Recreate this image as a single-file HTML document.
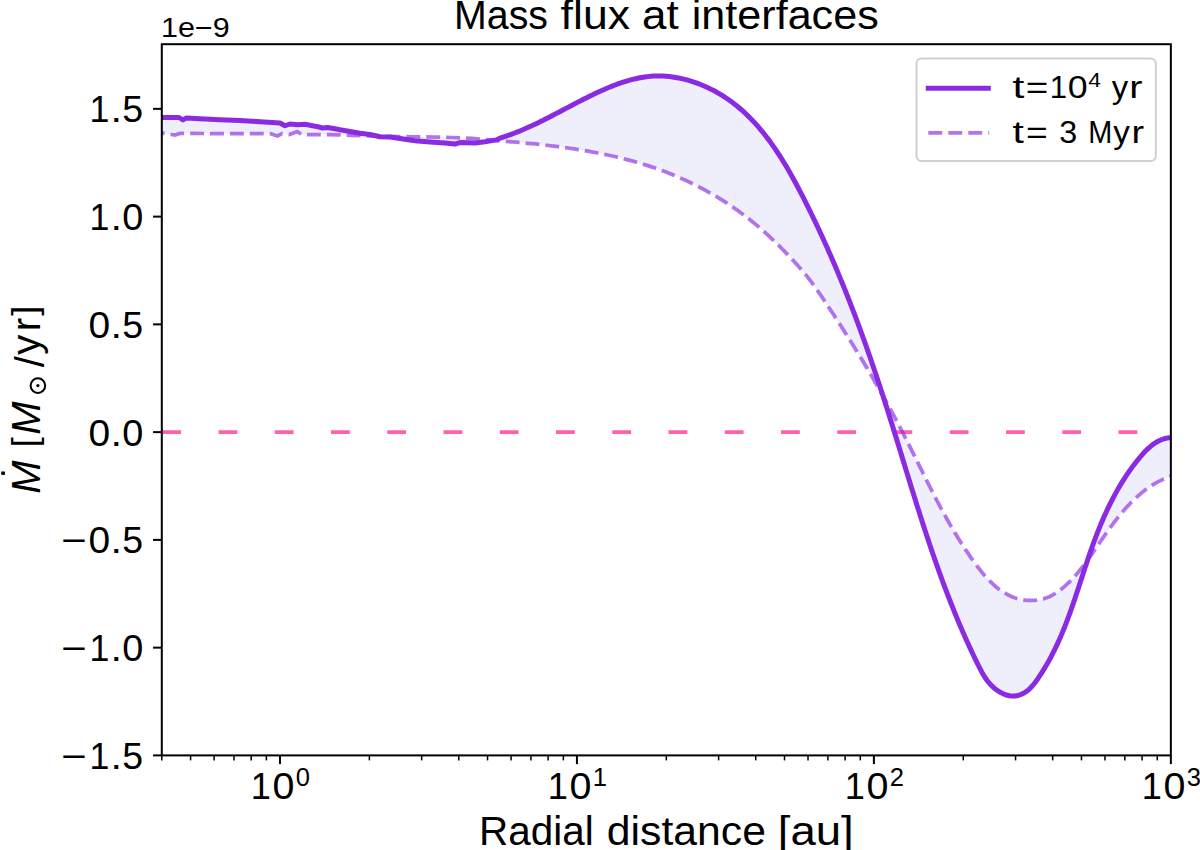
<!DOCTYPE html>
<html><head><meta charset="utf-8"><style>
html,body{margin:0;padding:0;background:#fff;width:1200px;height:850px;overflow:hidden}
svg{display:block;font-family:"Liberation Sans",sans-serif}
</style></head><body>
<svg width="1200" height="850" viewBox="0 0 1200 850">
<rect width="1200" height="850" fill="#fff"/>
<defs><clipPath id="ax"><rect x="161.80" y="44.20" width="1009.05" height="711.20"/></clipPath></defs>
<g clip-path="url(#ax)">
<path d="M150.00 117.50 L163.00 117.50 L179.00 117.50 L183.00 120.00 L186.00 118.00 L200.00 118.75 L220.00 119.75 L240.00 120.50 L260.00 121.75 L280.00 123.00 L285.00 125.75 L290.00 124.00 L297.50 124.75 L305.00 124.25 L312.50 125.75 L319.00 127.00 L322.50 128.00 L327.50 127.50 L335.00 128.75 L340.00 129.75 L350.00 131.50 L360.00 133.25 L370.00 134.50 L380.00 136.75 L390.00 137.00 L400.00 138.50 L415.00 140.75 L430.00 142.00 L445.00 143.00 L455.00 144.00 L460.00 142.60 L475.00 143.00 L485.00 141.75 L496.50 139.90 L500.15 138.06 L503.11 137.14 L506.04 136.18 L508.96 135.17 L511.85 134.12 L514.73 133.03 L517.60 131.91 L520.45 130.75 L523.28 129.55 L526.10 128.33 L528.91 127.07 L531.71 125.79 L534.49 124.49 L537.27 123.16 L540.04 121.81 L542.80 120.44 L545.55 119.05 L548.30 117.66 L551.05 116.24 L553.79 114.82 L556.52 113.39 L559.26 111.95 L561.99 110.51 L564.73 109.06 L567.47 107.62 L570.20 106.18 L572.94 104.74 L575.69 103.30 L578.44 101.88 L581.20 100.46 L583.96 99.06 L586.73 97.67 L589.51 96.29 L592.30 94.93 L595.10 93.60 L597.91 92.28 L600.73 90.99 L603.57 89.73 L606.42 88.50 L609.29 87.30 L612.17 86.14 L615.06 85.02 L617.96 83.95 L620.88 82.92 L623.82 81.95 L626.76 81.04 L629.72 80.20 L632.69 79.41 L635.67 78.70 L638.67 78.06 L641.68 77.50 L644.70 77.02 L647.74 76.62 L650.79 76.32 L653.85 76.11 L656.92 75.99 L660.01 75.98 L663.11 76.07 L666.22 76.26 L669.33 76.55 L672.44 76.94 L675.55 77.42 L678.66 77.99 L681.75 78.65 L684.84 79.39 L687.90 80.21 L690.95 81.11 L693.97 82.09 L696.97 83.14 L699.93 84.26 L702.86 85.45 L705.75 86.70 L708.60 88.02 L711.40 89.39 L714.16 90.82 L716.87 92.30 L719.54 93.84 L722.16 95.44 L724.73 97.08 L727.26 98.77 L729.75 100.52 L732.20 102.31 L734.61 104.15 L736.97 106.04 L739.30 107.97 L741.59 109.95 L743.84 111.97 L746.05 114.03 L748.23 116.13 L750.37 118.27 L752.48 120.45 L754.55 122.66 L756.59 124.92 L758.60 127.20 L760.58 129.52 L762.52 131.88 L764.44 134.26 L766.32 136.68 L768.18 139.12 L770.01 141.59 L771.81 144.09 L773.59 146.61 L775.34 149.16 L777.07 151.73 L778.77 154.33 L780.45 156.94 L782.11 159.58 L783.75 162.23 L785.36 164.90 L786.96 167.59 L788.54 170.29 L790.09 173.01 L791.64 175.74 L793.16 178.49 L794.67 181.24 L796.16 184.00 L797.64 186.77 L799.11 189.55 L800.56 192.34 L802.00 195.13 L803.43 197.92 L804.85 200.72 L806.26 203.52 L807.66 206.32 L809.05 209.12 L810.43 211.93 L811.80 214.73 L813.16 217.54 L814.51 220.35 L815.86 223.16 L817.19 225.98 L818.51 228.80 L819.83 231.62 L821.14 234.44 L822.43 237.26 L823.72 240.08 L825.00 242.91 L826.27 245.74 L827.54 248.57 L828.79 251.40 L830.04 254.24 L831.28 257.07 L832.51 259.91 L833.73 262.75 L834.95 265.60 L836.15 268.44 L837.35 271.29 L838.54 274.14 L839.73 276.99 L840.90 279.84 L842.07 282.70 L843.23 285.55 L844.39 288.41 L845.54 291.27 L846.68 294.13 L847.81 297.00 L848.94 299.87 L850.06 302.73 L851.17 305.61 L852.28 308.48 L853.38 311.35 L854.47 314.23 L855.56 317.11 L856.64 319.99 L857.72 322.87 L858.79 325.76 L859.85 328.64 L860.91 331.53 L861.96 334.42 L863.00 337.32 L864.04 340.21 L865.08 343.11 L866.11 346.01 L867.13 348.91 L868.15 351.81 L869.17 354.72 L870.18 357.62 L871.18 360.53 L872.18 363.44 L873.17 366.36 L874.16 369.27 L875.15 372.19 L876.13 375.11 L877.10 378.03 L878.08 380.95 L879.04 383.88 L880.01 386.80 L880.97 389.73 L881.92 392.67 L882.87 395.60 L883.82 398.53 L884.76 401.47 L885.70 404.41 L886.64 407.35 L887.58 410.29 L888.51 413.24 L889.43 416.19 L890.36 419.13 L891.28 422.08 L892.20 425.03 L893.12 427.99 L894.04 430.94 L894.95 433.89 L895.87 436.85 L896.78 439.81 L897.69 442.76 L898.60 445.72 L899.51 448.68 L900.42 451.64 L901.33 454.60 L902.23 457.56 L903.14 460.52 L904.05 463.48 L904.96 466.45 L905.87 469.41 L906.78 472.37 L907.69 475.33 L908.60 478.29 L909.51 481.26 L910.42 484.22 L911.34 487.18 L912.26 490.14 L913.18 493.10 L914.10 496.06 L915.02 499.02 L915.95 501.98 L916.88 504.93 L917.81 507.89 L918.75 510.85 L919.69 513.80 L920.63 516.75 L921.57 519.71 L922.52 522.66 L923.48 525.61 L924.43 528.55 L925.40 531.50 L926.36 534.44 L927.34 537.39 L928.31 540.33 L929.29 543.27 L930.28 546.20 L931.27 549.14 L932.27 552.07 L933.28 555.00 L934.29 557.93 L935.30 560.86 L936.33 563.78 L937.36 566.70 L938.39 569.62 L939.44 572.54 L940.49 575.45 L941.54 578.36 L942.61 581.27 L943.68 584.17 L944.76 587.07 L945.85 589.97 L946.95 592.86 L948.06 595.75 L949.17 598.64 L950.29 601.52 L951.43 604.40 L952.57 607.28 L953.72 610.15 L954.88 613.02 L956.05 615.88 L957.23 618.74 L958.42 621.60 L959.62 624.45 L960.84 627.30 L962.06 630.14 L963.29 632.98 L964.54 635.82 L965.79 638.65 L967.06 641.47 L968.34 644.29 L969.63 647.11 L970.93 649.92 L972.24 652.72 L973.57 655.52 L974.91 658.32 L976.26 661.11 L977.63 663.89 L979.01 666.67 L980.41 669.43 L981.87 672.16 L983.41 674.85 L985.04 677.47 L986.79 680.01 L988.69 682.46 L990.75 684.80 L993.00 687.02 L995.44 689.08 L998.05 690.96 L1000.79 692.61 L1003.62 693.98 L1006.52 695.05 L1009.45 695.76 L1012.38 696.08 L1015.27 695.97 L1018.11 695.45 L1020.87 694.54 L1023.53 693.29 L1026.06 691.72 L1028.46 689.86 L1030.70 687.76 L1032.77 685.44 L1034.72 682.98 L1036.58 680.42 L1038.38 677.83 L1040.14 675.22 L1041.85 672.59 L1043.51 669.94 L1045.13 667.28 L1046.71 664.60 L1048.25 661.90 L1049.75 659.19 L1051.21 656.46 L1052.64 653.71 L1054.03 650.96 L1055.38 648.18 L1056.71 645.40 L1058.00 642.60 L1059.27 639.79 L1060.50 636.97 L1061.71 634.14 L1062.89 631.29 L1064.05 628.44 L1065.19 625.58 L1066.31 622.71 L1067.40 619.82 L1068.48 616.94 L1069.54 614.04 L1070.58 611.14 L1071.61 608.23 L1072.62 605.31 L1073.63 602.39 L1074.62 599.46 L1075.61 596.53 L1076.58 593.59 L1077.55 590.66 L1078.52 587.71 L1079.48 584.77 L1080.44 581.83 L1081.40 578.88 L1082.36 575.93 L1083.32 572.98 L1084.28 570.03 L1085.25 567.09 L1086.23 564.14 L1087.21 561.19 L1088.20 558.25 L1089.20 555.31 L1090.21 552.37 L1091.24 549.44 L1092.28 546.51 L1093.33 543.59 L1094.40 540.67 L1095.49 537.76 L1096.60 534.85 L1097.73 531.95 L1098.88 529.06 L1100.05 526.18 L1101.24 523.31 L1102.46 520.45 L1103.70 517.60 L1104.96 514.76 L1106.25 511.93 L1107.56 509.12 L1108.90 506.32 L1110.26 503.54 L1111.65 500.78 L1113.08 498.03 L1114.52 495.29 L1116.00 492.58 L1117.51 489.89 L1119.05 487.21 L1120.62 484.56 L1122.23 481.93 L1123.87 479.32 L1125.54 476.73 L1127.24 474.17 L1128.98 471.63 L1130.76 469.12 L1132.57 466.63 L1134.42 464.18 L1136.31 461.74 L1138.24 459.34 L1140.20 456.97 L1142.21 454.63 L1144.27 452.35 L1146.40 450.14 L1148.62 448.03 L1150.93 446.04 L1153.35 444.20 L1155.89 442.52 L1158.58 441.03 L1161.41 439.76 L1164.42 438.72 L1167.60 437.94 L1170.98 437.44 L1170.69 476.25 L1168.46 477.06 L1166.26 477.93 L1164.11 478.86 L1161.99 479.83 L1159.90 480.86 L1157.85 481.93 L1155.83 483.05 L1153.84 484.22 L1151.89 485.43 L1149.96 486.69 L1148.07 487.99 L1146.21 489.33 L1144.37 490.71 L1142.56 492.13 L1140.78 493.58 L1139.03 495.07 L1137.31 496.60 L1135.60 498.15 L1133.93 499.74 L1132.27 501.36 L1130.64 503.00 L1129.03 504.68 L1127.44 506.38 L1125.88 508.10 L1124.33 509.85 L1122.80 511.62 L1121.29 513.41 L1119.80 515.22 L1118.32 517.04 L1116.86 518.89 L1115.41 520.74 L1113.98 522.61 L1112.56 524.50 L1111.16 526.39 L1109.77 528.30 L1108.39 530.21 L1107.02 532.13 L1105.66 534.05 L1104.30 535.98 L1102.96 537.91 L1101.62 539.84 L1100.30 541.77 L1098.97 543.71 L1097.65 545.63 L1096.34 547.56 L1095.03 549.48 L1093.71 551.39 L1092.40 553.30 L1091.07 555.20 L1089.74 557.09 L1088.40 558.98 L1087.05 560.85 L1085.68 562.72 L1084.29 564.57 L1082.88 566.41 L1081.46 568.24 L1080.00 570.05 L1078.52 571.85 L1077.02 573.64 L1075.48 575.40 L1073.90 577.15 L1072.30 578.88 L1070.65 580.60 L1068.96 582.29 L1067.23 583.96 L1065.46 585.60 L1063.65 587.20 L1061.79 588.75 L1059.90 590.24 L1057.96 591.66 L1055.99 592.99 L1053.97 594.24 L1051.92 595.39 L1049.83 596.43 L1047.70 597.35 L1045.54 598.15 L1043.34 598.83 L1041.12 599.38 L1038.87 599.82 L1036.61 600.14 L1034.34 600.35 L1032.06 600.45 L1029.78 600.44 L1027.50 600.32 L1025.23 600.09 L1022.97 599.76 L1020.73 599.34 L1018.52 598.81 L1016.33 598.19 L1014.17 597.47 L1012.05 596.66 L1009.97 595.76 L1007.93 594.77 L1005.94 593.70 L1003.99 592.56 L1002.08 591.33 L1000.21 590.03 L998.37 588.67 L996.57 587.24 L994.81 585.75 L993.08 584.20 L991.38 582.59 L989.71 580.94 L988.07 579.24 L986.47 577.50 L984.88 575.72 L983.33 573.90 L981.80 572.06 L980.29 570.18 L978.81 568.28 L977.35 566.36 L975.90 564.43 L974.48 562.48 L973.07 560.52 L971.68 558.56 L970.30 556.59 L968.94 554.62 L967.60 552.64 L966.27 550.66 L964.95 548.67 L963.65 546.68 L962.36 544.69 L961.08 542.70 L959.81 540.70 L958.56 538.69 L957.32 536.69 L956.09 534.68 L954.88 532.66 L953.67 530.65 L952.48 528.63 L951.29 526.61 L950.12 524.58 L948.96 522.55 L947.80 520.52 L946.66 518.49 L945.52 516.45 L944.39 514.42 L943.27 512.37 L942.16 510.33 L941.05 508.29 L939.95 506.24 L938.86 504.19 L937.78 502.14 L936.70 500.09 L935.63 498.03 L934.56 495.97 L933.50 493.92 L932.44 491.86 L931.39 489.79 L930.34 487.73 L929.30 485.67 L928.26 483.60 L927.22 481.54 L926.18 479.47 L925.15 477.40 L924.12 475.34 L923.09 473.27 L922.06 471.20 L921.04 469.13 L920.01 467.06 L918.99 464.99 L917.96 462.91 L916.94 460.84 L915.91 458.77 L914.89 456.70 L913.86 454.63 L912.83 452.56 L911.80 450.49 L910.77 448.42 L909.74 446.35 L908.70 444.28 L907.66 442.21 L906.61 440.14 L905.57 438.07 L904.51 436.00 L903.46 433.94 L902.40 431.87 L901.33 429.81 L900.26 427.75 L899.18 425.69 L898.10 423.63 L897.01 421.57 L895.92 419.51 L894.83 417.46 L893.73 415.40 L892.62 413.35 L891.51 411.30 L890.40 409.24 L889.28 407.20 L888.15 405.15 L887.03 403.10 L885.89 401.06 L884.76 399.01 L883.61 396.97 L882.47 394.93 L881.32 392.90 L880.17 390.86 L879.01 388.82 L877.85 386.79 L876.68 384.76 L875.51 382.73 L874.34 380.70 L873.16 378.68 L871.98 376.65 L870.80 374.63 L869.61 372.61 L868.42 370.59 L867.22 368.58 L866.02 366.56 L864.82 364.55 L863.62 362.54 L862.41 360.54 L861.20 358.53 L859.98 356.53 L858.76 354.52 L857.54 352.53 L856.32 350.53 L855.09 348.53 L853.86 346.54 L852.63 344.55 L851.39 342.56 L850.15 340.58 L848.91 338.60 L847.67 336.62 L846.42 334.64 L845.17 332.66 L843.92 330.69 L842.67 328.72 L841.41 326.75 L840.15 324.79 L838.89 322.82 L837.62 320.86 L836.36 318.91 L835.09 316.95 L833.82 315.00 L832.55 313.05 L831.28 311.10 L830.00 309.16 L828.72 307.22 L827.44 305.28 L826.16 303.35 L824.88 301.42 L823.59 299.49 L822.31 297.56 L821.02 295.64 L819.72 293.73 L818.42 291.82 L817.10 289.91 L815.77 288.02 L814.43 286.14 L813.07 284.27 L811.69 282.41 L810.29 280.57 L808.86 278.74 L807.42 276.93 L805.95 275.12 L804.46 273.34 L802.96 271.56 L801.44 269.79 L799.91 268.04 L798.36 266.29 L796.81 264.55 L795.24 262.82 L793.67 261.10 L792.09 259.38 L790.51 257.67 L788.91 255.97 L787.31 254.27 L785.69 252.58 L784.07 250.91 L782.45 249.24 L780.81 247.57 L779.16 245.92 L777.50 244.28 L775.84 242.65 L774.16 241.02 L772.48 239.41 L770.78 237.81 L769.08 236.22 L767.37 234.64 L765.64 233.07 L763.91 231.52 L762.16 229.97 L760.40 228.44 L758.63 226.92 L756.85 225.41 L755.06 223.92 L753.26 222.44 L751.45 220.97 L749.62 219.52 L747.79 218.08 L745.94 216.65 L744.08 215.24 L742.21 213.84 L740.33 212.46 L738.44 211.09 L736.54 209.74 L734.62 208.40 L732.70 207.07 L730.77 205.76 L728.83 204.46 L726.87 203.17 L724.91 201.90 L722.94 200.65 L720.96 199.41 L718.97 198.18 L716.97 196.97 L714.97 195.77 L712.95 194.59 L710.93 193.42 L708.89 192.27 L706.85 191.13 L704.80 190.01 L702.75 188.90 L700.68 187.80 L698.61 186.73 L696.53 185.66 L694.44 184.61 L692.35 183.58 L690.25 182.56 L688.14 181.56 L686.02 180.57 L683.90 179.60 L681.78 178.64 L679.64 177.70 L677.50 176.77 L675.36 175.86 L673.21 174.96 L671.05 174.08 L668.89 173.22 L666.72 172.37 L664.55 171.54 L662.37 170.72 L660.19 169.91 L658.00 169.13 L655.81 168.35 L653.61 167.60 L651.41 166.85 L649.20 166.12 L646.99 165.41 L644.77 164.71 L642.55 164.02 L640.33 163.35 L638.10 162.69 L635.87 162.04 L633.64 161.41 L631.40 160.79 L629.15 160.18 L626.90 159.58 L624.65 159.00 L622.40 158.43 L620.14 157.87 L617.88 157.33 L615.61 156.79 L613.35 156.27 L611.07 155.75 L608.80 155.25 L606.52 154.76 L604.24 154.28 L601.96 153.81 L599.67 153.35 L597.38 152.91 L595.09 152.47 L592.80 152.04 L590.50 151.62 L588.21 151.21 L585.90 150.81 L583.60 150.42 L581.30 150.03 L578.99 149.66 L576.68 149.30 L574.37 148.94 L572.06 148.59 L569.74 148.25 L567.43 147.92 L565.11 147.59 L562.79 147.27 L560.47 146.96 L558.15 146.66 L555.83 146.36 L553.50 146.07 L551.18 145.79 L548.85 145.51 L546.52 145.24 L544.20 144.98 L541.87 144.72 L539.54 144.47 L537.21 144.22 L534.88 143.98 L532.55 143.74 L530.22 143.51 L527.89 143.28 L525.56 143.06 L523.23 142.84 L520.89 142.62 L518.56 142.41 L516.23 142.21 L513.90 142.00 L511.57 141.80 L472.00 138.40 L452.00 137.50 L432.00 137.00 L413.00 136.75 L400.00 136.60 L380.00 136.20 L352.00 135.40 L340.00 134.90 L320.00 134.60 L307.00 134.50 L301.50 134.50 L297.50 131.50 L289.50 134.50 L282.00 133.60 L277.50 136.00 L270.00 133.50 L240.00 133.50 L204.00 133.50 L184.00 133.30 L180.00 133.40 L175.00 135.00 L171.50 134.50 L163.00 133.20 L150.00 133.20 Z" fill="#efeffc" stroke="none"/>
<line x1="162.3" y1="432.2" x2="1171" y2="432.2" stroke="#ff5fad" stroke-width="3.75" stroke-dasharray="18.75 37.5"/>
<path d="M150.00 133.20 L163.00 133.20 L171.50 134.50 L175.00 135.00 L180.00 133.40 L184.00 133.30 L204.00 133.50 L240.00 133.50 L270.00 133.50 L277.50 136.00 L282.00 133.60 L289.50 134.50 L297.50 131.50 L301.50 134.50 L307.00 134.50 L320.00 134.60 L340.00 134.90 L352.00 135.40 L380.00 136.20 L400.00 136.60 L413.00 136.75 L432.00 137.00 L452.00 137.50 L472.00 138.40 L511.57 141.80 L513.90 142.00 L516.23 142.21 L518.56 142.41 L520.89 142.62 L523.23 142.84 L525.56 143.06 L527.89 143.28 L530.22 143.51 L532.55 143.74 L534.88 143.98 L537.21 144.22 L539.54 144.47 L541.87 144.72 L544.20 144.98 L546.52 145.24 L548.85 145.51 L551.18 145.79 L553.50 146.07 L555.83 146.36 L558.15 146.66 L560.47 146.96 L562.79 147.27 L565.11 147.59 L567.43 147.92 L569.74 148.25 L572.06 148.59 L574.37 148.94 L576.68 149.30 L578.99 149.66 L581.30 150.03 L583.60 150.42 L585.90 150.81 L588.21 151.21 L590.50 151.62 L592.80 152.04 L595.09 152.47 L597.38 152.91 L599.67 153.35 L601.96 153.81 L604.24 154.28 L606.52 154.76 L608.80 155.25 L611.07 155.75 L613.35 156.27 L615.61 156.79 L617.88 157.33 L620.14 157.87 L622.40 158.43 L624.65 159.00 L626.90 159.58 L629.15 160.18 L631.40 160.79 L633.64 161.41 L635.87 162.04 L638.10 162.69 L640.33 163.35 L642.55 164.02 L644.77 164.71 L646.99 165.41 L649.20 166.12 L651.41 166.85 L653.61 167.60 L655.81 168.35 L658.00 169.13 L660.19 169.91 L662.37 170.72 L664.55 171.54 L666.72 172.37 L668.89 173.22 L671.05 174.08 L673.21 174.96 L675.36 175.86 L677.50 176.77 L679.64 177.70 L681.78 178.64 L683.90 179.60 L686.02 180.57 L688.14 181.56 L690.25 182.56 L692.35 183.58 L694.44 184.61 L696.53 185.66 L698.61 186.73 L700.68 187.80 L702.75 188.90 L704.80 190.01 L706.85 191.13 L708.89 192.27 L710.93 193.42 L712.95 194.59 L714.97 195.77 L716.97 196.97 L718.97 198.18 L720.96 199.41 L722.94 200.65 L724.91 201.90 L726.87 203.17 L728.83 204.46 L730.77 205.76 L732.70 207.07 L734.62 208.40 L736.54 209.74 L738.44 211.09 L740.33 212.46 L742.21 213.84 L744.08 215.24 L745.94 216.65 L747.79 218.08 L749.62 219.52 L751.45 220.97 L753.26 222.44 L755.06 223.92 L756.85 225.41 L758.63 226.92 L760.40 228.44 L762.16 229.97 L763.91 231.52 L765.64 233.07 L767.37 234.64 L769.08 236.22 L770.78 237.81 L772.48 239.41 L774.16 241.02 L775.84 242.65 L777.50 244.28 L779.16 245.92 L780.81 247.57 L782.45 249.24 L784.07 250.91 L785.69 252.58 L787.31 254.27 L788.91 255.97 L790.51 257.67 L792.09 259.38 L793.67 261.10 L795.24 262.82 L796.81 264.55 L798.36 266.29 L799.91 268.04 L801.44 269.79 L802.96 271.56 L804.46 273.34 L805.95 275.12 L807.42 276.93 L808.86 278.74 L810.29 280.57 L811.69 282.41 L813.07 284.27 L814.43 286.14 L815.77 288.02 L817.10 289.91 L818.42 291.82 L819.72 293.73 L821.02 295.64 L822.31 297.56 L823.59 299.49 L824.88 301.42 L826.16 303.35 L827.44 305.28 L828.72 307.22 L830.00 309.16 L831.28 311.10 L832.55 313.05 L833.82 315.00 L835.09 316.95 L836.36 318.91 L837.62 320.86 L838.89 322.82 L840.15 324.79 L841.41 326.75 L842.67 328.72 L843.92 330.69 L845.17 332.66 L846.42 334.64 L847.67 336.62 L848.91 338.60 L850.15 340.58 L851.39 342.56 L852.63 344.55 L853.86 346.54 L855.09 348.53 L856.32 350.53 L857.54 352.53 L858.76 354.52 L859.98 356.53 L861.20 358.53 L862.41 360.54 L863.62 362.54 L864.82 364.55 L866.02 366.56 L867.22 368.58 L868.42 370.59 L869.61 372.61 L870.80 374.63 L871.98 376.65 L873.16 378.68 L874.34 380.70 L875.51 382.73 L876.68 384.76 L877.85 386.79 L879.01 388.82 L880.17 390.86 L881.32 392.90 L882.47 394.93 L883.61 396.97 L884.76 399.01 L885.89 401.06 L887.03 403.10 L888.15 405.15 L889.28 407.20 L890.40 409.24 L891.51 411.30 L892.62 413.35 L893.73 415.40 L894.83 417.46 L895.92 419.51 L897.01 421.57 L898.10 423.63 L899.18 425.69 L900.26 427.75 L901.33 429.81 L902.40 431.87 L903.46 433.94 L904.51 436.00 L905.57 438.07 L906.61 440.14 L907.66 442.21 L908.70 444.28 L909.74 446.35 L910.77 448.42 L911.80 450.49 L912.83 452.56 L913.86 454.63 L914.89 456.70 L915.91 458.77 L916.94 460.84 L917.96 462.91 L918.99 464.99 L920.01 467.06 L921.04 469.13 L922.06 471.20 L923.09 473.27 L924.12 475.34 L925.15 477.40 L926.18 479.47 L927.22 481.54 L928.26 483.60 L929.30 485.67 L930.34 487.73 L931.39 489.79 L932.44 491.86 L933.50 493.92 L934.56 495.97 L935.63 498.03 L936.70 500.09 L937.78 502.14 L938.86 504.19 L939.95 506.24 L941.05 508.29 L942.16 510.33 L943.27 512.37 L944.39 514.42 L945.52 516.45 L946.66 518.49 L947.80 520.52 L948.96 522.55 L950.12 524.58 L951.29 526.61 L952.48 528.63 L953.67 530.65 L954.88 532.66 L956.09 534.68 L957.32 536.69 L958.56 538.69 L959.81 540.70 L961.08 542.70 L962.36 544.69 L963.65 546.68 L964.95 548.67 L966.27 550.66 L967.60 552.64 L968.94 554.62 L970.30 556.59 L971.68 558.56 L973.07 560.52 L974.48 562.48 L975.90 564.43 L977.35 566.36 L978.81 568.28 L980.29 570.18 L981.80 572.06 L983.33 573.90 L984.88 575.72 L986.47 577.50 L988.07 579.24 L989.71 580.94 L991.38 582.59 L993.08 584.20 L994.81 585.75 L996.57 587.24 L998.37 588.67 L1000.21 590.03 L1002.08 591.33 L1003.99 592.56 L1005.94 593.70 L1007.93 594.77 L1009.97 595.76 L1012.05 596.66 L1014.17 597.47 L1016.33 598.19 L1018.52 598.81 L1020.73 599.34 L1022.97 599.76 L1025.23 600.09 L1027.50 600.32 L1029.78 600.44 L1032.06 600.45 L1034.34 600.35 L1036.61 600.14 L1038.87 599.82 L1041.12 599.38 L1043.34 598.83 L1045.54 598.15 L1047.70 597.35 L1049.83 596.43 L1051.92 595.39 L1053.97 594.24 L1055.99 592.99 L1057.96 591.66 L1059.90 590.24 L1061.79 588.75 L1063.65 587.20 L1065.46 585.60 L1067.23 583.96 L1068.96 582.29 L1070.65 580.60 L1072.30 578.88 L1073.90 577.15 L1075.48 575.40 L1077.02 573.64 L1078.52 571.85 L1080.00 570.05 L1081.46 568.24 L1082.88 566.41 L1084.29 564.57 L1085.68 562.72 L1087.05 560.85 L1088.40 558.98 L1089.74 557.09 L1091.07 555.20 L1092.40 553.30 L1093.71 551.39 L1095.03 549.48 L1096.34 547.56 L1097.65 545.63 L1098.97 543.71 L1100.30 541.77 L1101.62 539.84 L1102.96 537.91 L1104.30 535.98 L1105.66 534.05 L1107.02 532.13 L1108.39 530.21 L1109.77 528.30 L1111.16 526.39 L1112.56 524.50 L1113.98 522.61 L1115.41 520.74 L1116.86 518.89 L1118.32 517.04 L1119.80 515.22 L1121.29 513.41 L1122.80 511.62 L1124.33 509.85 L1125.88 508.10 L1127.44 506.38 L1129.03 504.68 L1130.64 503.00 L1132.27 501.36 L1133.93 499.74 L1135.60 498.15 L1137.31 496.60 L1139.03 495.07 L1140.78 493.58 L1142.56 492.13 L1144.37 490.71 L1146.21 489.33 L1148.07 487.99 L1149.96 486.69 L1151.89 485.43 L1153.84 484.22 L1155.83 483.05 L1157.85 481.93 L1159.90 480.86 L1161.99 479.83 L1164.11 478.86 L1166.26 477.93 L1168.46 477.06 L1170.69 476.25" fill="none" stroke="#8a2be2" stroke-opacity="0.65" stroke-width="3.75" stroke-dasharray="13.9 6" stroke-dashoffset="19.20"/>
<path d="M150.00 117.50 L163.00 117.50 L179.00 117.50 L183.00 120.00 L186.00 118.00 L200.00 118.75 L220.00 119.75 L240.00 120.50 L260.00 121.75 L280.00 123.00 L285.00 125.75 L290.00 124.00 L297.50 124.75 L305.00 124.25 L312.50 125.75 L319.00 127.00 L322.50 128.00 L327.50 127.50 L335.00 128.75 L340.00 129.75 L350.00 131.50 L360.00 133.25 L370.00 134.50 L380.00 136.75 L390.00 137.00 L400.00 138.50 L415.00 140.75 L430.00 142.00 L445.00 143.00 L455.00 144.00 L460.00 142.60 L475.00 143.00 L485.00 141.75 L496.50 139.90 L500.15 138.06 L503.11 137.14 L506.04 136.18 L508.96 135.17 L511.85 134.12 L514.73 133.03 L517.60 131.91 L520.45 130.75 L523.28 129.55 L526.10 128.33 L528.91 127.07 L531.71 125.79 L534.49 124.49 L537.27 123.16 L540.04 121.81 L542.80 120.44 L545.55 119.05 L548.30 117.66 L551.05 116.24 L553.79 114.82 L556.52 113.39 L559.26 111.95 L561.99 110.51 L564.73 109.06 L567.47 107.62 L570.20 106.18 L572.94 104.74 L575.69 103.30 L578.44 101.88 L581.20 100.46 L583.96 99.06 L586.73 97.67 L589.51 96.29 L592.30 94.93 L595.10 93.60 L597.91 92.28 L600.73 90.99 L603.57 89.73 L606.42 88.50 L609.29 87.30 L612.17 86.14 L615.06 85.02 L617.96 83.95 L620.88 82.92 L623.82 81.95 L626.76 81.04 L629.72 80.20 L632.69 79.41 L635.67 78.70 L638.67 78.06 L641.68 77.50 L644.70 77.02 L647.74 76.62 L650.79 76.32 L653.85 76.11 L656.92 75.99 L660.01 75.98 L663.11 76.07 L666.22 76.26 L669.33 76.55 L672.44 76.94 L675.55 77.42 L678.66 77.99 L681.75 78.65 L684.84 79.39 L687.90 80.21 L690.95 81.11 L693.97 82.09 L696.97 83.14 L699.93 84.26 L702.86 85.45 L705.75 86.70 L708.60 88.02 L711.40 89.39 L714.16 90.82 L716.87 92.30 L719.54 93.84 L722.16 95.44 L724.73 97.08 L727.26 98.77 L729.75 100.52 L732.20 102.31 L734.61 104.15 L736.97 106.04 L739.30 107.97 L741.59 109.95 L743.84 111.97 L746.05 114.03 L748.23 116.13 L750.37 118.27 L752.48 120.45 L754.55 122.66 L756.59 124.92 L758.60 127.20 L760.58 129.52 L762.52 131.88 L764.44 134.26 L766.32 136.68 L768.18 139.12 L770.01 141.59 L771.81 144.09 L773.59 146.61 L775.34 149.16 L777.07 151.73 L778.77 154.33 L780.45 156.94 L782.11 159.58 L783.75 162.23 L785.36 164.90 L786.96 167.59 L788.54 170.29 L790.09 173.01 L791.64 175.74 L793.16 178.49 L794.67 181.24 L796.16 184.00 L797.64 186.77 L799.11 189.55 L800.56 192.34 L802.00 195.13 L803.43 197.92 L804.85 200.72 L806.26 203.52 L807.66 206.32 L809.05 209.12 L810.43 211.93 L811.80 214.73 L813.16 217.54 L814.51 220.35 L815.86 223.16 L817.19 225.98 L818.51 228.80 L819.83 231.62 L821.14 234.44 L822.43 237.26 L823.72 240.08 L825.00 242.91 L826.27 245.74 L827.54 248.57 L828.79 251.40 L830.04 254.24 L831.28 257.07 L832.51 259.91 L833.73 262.75 L834.95 265.60 L836.15 268.44 L837.35 271.29 L838.54 274.14 L839.73 276.99 L840.90 279.84 L842.07 282.70 L843.23 285.55 L844.39 288.41 L845.54 291.27 L846.68 294.13 L847.81 297.00 L848.94 299.87 L850.06 302.73 L851.17 305.61 L852.28 308.48 L853.38 311.35 L854.47 314.23 L855.56 317.11 L856.64 319.99 L857.72 322.87 L858.79 325.76 L859.85 328.64 L860.91 331.53 L861.96 334.42 L863.00 337.32 L864.04 340.21 L865.08 343.11 L866.11 346.01 L867.13 348.91 L868.15 351.81 L869.17 354.72 L870.18 357.62 L871.18 360.53 L872.18 363.44 L873.17 366.36 L874.16 369.27 L875.15 372.19 L876.13 375.11 L877.10 378.03 L878.08 380.95 L879.04 383.88 L880.01 386.80 L880.97 389.73 L881.92 392.67 L882.87 395.60 L883.82 398.53 L884.76 401.47 L885.70 404.41 L886.64 407.35 L887.58 410.29 L888.51 413.24 L889.43 416.19 L890.36 419.13 L891.28 422.08 L892.20 425.03 L893.12 427.99 L894.04 430.94 L894.95 433.89 L895.87 436.85 L896.78 439.81 L897.69 442.76 L898.60 445.72 L899.51 448.68 L900.42 451.64 L901.33 454.60 L902.23 457.56 L903.14 460.52 L904.05 463.48 L904.96 466.45 L905.87 469.41 L906.78 472.37 L907.69 475.33 L908.60 478.29 L909.51 481.26 L910.42 484.22 L911.34 487.18 L912.26 490.14 L913.18 493.10 L914.10 496.06 L915.02 499.02 L915.95 501.98 L916.88 504.93 L917.81 507.89 L918.75 510.85 L919.69 513.80 L920.63 516.75 L921.57 519.71 L922.52 522.66 L923.48 525.61 L924.43 528.55 L925.40 531.50 L926.36 534.44 L927.34 537.39 L928.31 540.33 L929.29 543.27 L930.28 546.20 L931.27 549.14 L932.27 552.07 L933.28 555.00 L934.29 557.93 L935.30 560.86 L936.33 563.78 L937.36 566.70 L938.39 569.62 L939.44 572.54 L940.49 575.45 L941.54 578.36 L942.61 581.27 L943.68 584.17 L944.76 587.07 L945.85 589.97 L946.95 592.86 L948.06 595.75 L949.17 598.64 L950.29 601.52 L951.43 604.40 L952.57 607.28 L953.72 610.15 L954.88 613.02 L956.05 615.88 L957.23 618.74 L958.42 621.60 L959.62 624.45 L960.84 627.30 L962.06 630.14 L963.29 632.98 L964.54 635.82 L965.79 638.65 L967.06 641.47 L968.34 644.29 L969.63 647.11 L970.93 649.92 L972.24 652.72 L973.57 655.52 L974.91 658.32 L976.26 661.11 L977.63 663.89 L979.01 666.67 L980.41 669.43 L981.87 672.16 L983.41 674.85 L985.04 677.47 L986.79 680.01 L988.69 682.46 L990.75 684.80 L993.00 687.02 L995.44 689.08 L998.05 690.96 L1000.79 692.61 L1003.62 693.98 L1006.52 695.05 L1009.45 695.76 L1012.38 696.08 L1015.27 695.97 L1018.11 695.45 L1020.87 694.54 L1023.53 693.29 L1026.06 691.72 L1028.46 689.86 L1030.70 687.76 L1032.77 685.44 L1034.72 682.98 L1036.58 680.42 L1038.38 677.83 L1040.14 675.22 L1041.85 672.59 L1043.51 669.94 L1045.13 667.28 L1046.71 664.60 L1048.25 661.90 L1049.75 659.19 L1051.21 656.46 L1052.64 653.71 L1054.03 650.96 L1055.38 648.18 L1056.71 645.40 L1058.00 642.60 L1059.27 639.79 L1060.50 636.97 L1061.71 634.14 L1062.89 631.29 L1064.05 628.44 L1065.19 625.58 L1066.31 622.71 L1067.40 619.82 L1068.48 616.94 L1069.54 614.04 L1070.58 611.14 L1071.61 608.23 L1072.62 605.31 L1073.63 602.39 L1074.62 599.46 L1075.61 596.53 L1076.58 593.59 L1077.55 590.66 L1078.52 587.71 L1079.48 584.77 L1080.44 581.83 L1081.40 578.88 L1082.36 575.93 L1083.32 572.98 L1084.28 570.03 L1085.25 567.09 L1086.23 564.14 L1087.21 561.19 L1088.20 558.25 L1089.20 555.31 L1090.21 552.37 L1091.24 549.44 L1092.28 546.51 L1093.33 543.59 L1094.40 540.67 L1095.49 537.76 L1096.60 534.85 L1097.73 531.95 L1098.88 529.06 L1100.05 526.18 L1101.24 523.31 L1102.46 520.45 L1103.70 517.60 L1104.96 514.76 L1106.25 511.93 L1107.56 509.12 L1108.90 506.32 L1110.26 503.54 L1111.65 500.78 L1113.08 498.03 L1114.52 495.29 L1116.00 492.58 L1117.51 489.89 L1119.05 487.21 L1120.62 484.56 L1122.23 481.93 L1123.87 479.32 L1125.54 476.73 L1127.24 474.17 L1128.98 471.63 L1130.76 469.12 L1132.57 466.63 L1134.42 464.18 L1136.31 461.74 L1138.24 459.34 L1140.20 456.97 L1142.21 454.63 L1144.27 452.35 L1146.40 450.14 L1148.62 448.03 L1150.93 446.04 L1153.35 444.20 L1155.89 442.52 L1158.58 441.03 L1161.41 439.76 L1164.42 438.72 L1167.60 437.94 L1170.98 437.44" fill="none" stroke="#8a2be2" stroke-width="5" stroke-linejoin="round"/>
</g>
<rect x="161.80" y="44.20" width="1009.05" height="711.20" fill="none" stroke="#000" stroke-width="2" stroke-linejoin="miter"/>
<line x1="153.05" y1="755.40" x2="161.80" y2="755.40" stroke="#000" stroke-width="2"/>
<line x1="153.05" y1="647.64" x2="161.80" y2="647.64" stroke="#000" stroke-width="2"/>
<line x1="153.05" y1="539.88" x2="161.80" y2="539.88" stroke="#000" stroke-width="2"/>
<line x1="153.05" y1="432.13" x2="161.80" y2="432.13" stroke="#000" stroke-width="2"/>
<line x1="153.05" y1="324.37" x2="161.80" y2="324.37" stroke="#000" stroke-width="2"/>
<line x1="153.05" y1="216.61" x2="161.80" y2="216.61" stroke="#000" stroke-width="2"/>
<line x1="153.05" y1="108.85" x2="161.80" y2="108.85" stroke="#000" stroke-width="2"/>
<line x1="279.97" y1="755.40" x2="279.97" y2="764.15" stroke="#000" stroke-width="2"/>
<line x1="576.93" y1="755.40" x2="576.93" y2="764.15" stroke="#000" stroke-width="2"/>
<line x1="873.89" y1="755.40" x2="873.89" y2="764.15" stroke="#000" stroke-width="2"/>
<line x1="1170.85" y1="755.40" x2="1170.85" y2="764.15" stroke="#000" stroke-width="2"/>
<line x1="161.80" y1="755.40" x2="161.80" y2="760.40" stroke="#000" stroke-width="1.5"/>
<line x1="190.58" y1="755.40" x2="190.58" y2="760.40" stroke="#000" stroke-width="1.5"/>
<line x1="214.09" y1="755.40" x2="214.09" y2="760.40" stroke="#000" stroke-width="1.5"/>
<line x1="233.97" y1="755.40" x2="233.97" y2="760.40" stroke="#000" stroke-width="1.5"/>
<line x1="251.19" y1="755.40" x2="251.19" y2="760.40" stroke="#000" stroke-width="1.5"/>
<line x1="266.38" y1="755.40" x2="266.38" y2="760.40" stroke="#000" stroke-width="1.5"/>
<line x1="369.37" y1="755.40" x2="369.37" y2="760.40" stroke="#000" stroke-width="1.5"/>
<line x1="421.66" y1="755.40" x2="421.66" y2="760.40" stroke="#000" stroke-width="1.5"/>
<line x1="458.76" y1="755.40" x2="458.76" y2="760.40" stroke="#000" stroke-width="1.5"/>
<line x1="487.54" y1="755.40" x2="487.54" y2="760.40" stroke="#000" stroke-width="1.5"/>
<line x1="511.05" y1="755.40" x2="511.05" y2="760.40" stroke="#000" stroke-width="1.5"/>
<line x1="530.93" y1="755.40" x2="530.93" y2="760.40" stroke="#000" stroke-width="1.5"/>
<line x1="548.15" y1="755.40" x2="548.15" y2="760.40" stroke="#000" stroke-width="1.5"/>
<line x1="563.34" y1="755.40" x2="563.34" y2="760.40" stroke="#000" stroke-width="1.5"/>
<line x1="666.33" y1="755.40" x2="666.33" y2="760.40" stroke="#000" stroke-width="1.5"/>
<line x1="718.62" y1="755.40" x2="718.62" y2="760.40" stroke="#000" stroke-width="1.5"/>
<line x1="755.72" y1="755.40" x2="755.72" y2="760.40" stroke="#000" stroke-width="1.5"/>
<line x1="784.50" y1="755.40" x2="784.50" y2="760.40" stroke="#000" stroke-width="1.5"/>
<line x1="808.01" y1="755.40" x2="808.01" y2="760.40" stroke="#000" stroke-width="1.5"/>
<line x1="827.89" y1="755.40" x2="827.89" y2="760.40" stroke="#000" stroke-width="1.5"/>
<line x1="845.11" y1="755.40" x2="845.11" y2="760.40" stroke="#000" stroke-width="1.5"/>
<line x1="860.30" y1="755.40" x2="860.30" y2="760.40" stroke="#000" stroke-width="1.5"/>
<line x1="963.28" y1="755.40" x2="963.28" y2="760.40" stroke="#000" stroke-width="1.5"/>
<line x1="1015.58" y1="755.40" x2="1015.58" y2="760.40" stroke="#000" stroke-width="1.5"/>
<line x1="1052.68" y1="755.40" x2="1052.68" y2="760.40" stroke="#000" stroke-width="1.5"/>
<line x1="1081.46" y1="755.40" x2="1081.46" y2="760.40" stroke="#000" stroke-width="1.5"/>
<line x1="1104.97" y1="755.40" x2="1104.97" y2="760.40" stroke="#000" stroke-width="1.5"/>
<line x1="1124.85" y1="755.40" x2="1124.85" y2="760.40" stroke="#000" stroke-width="1.5"/>
<line x1="1142.07" y1="755.40" x2="1142.07" y2="760.40" stroke="#000" stroke-width="1.5"/>
<line x1="1157.26" y1="755.40" x2="1157.26" y2="760.40" stroke="#000" stroke-width="1.5"/>
<text x="454.05" y="29.00" font-size="40.40" text-anchor="start" textLength="93.91" lengthAdjust="spacingAndGlyphs" font-family="&quot;Liberation Sans&quot;, sans-serif" >Mass</text>
<text x="560.64" y="29.00" font-size="40.40" text-anchor="start" textLength="69.43" lengthAdjust="spacingAndGlyphs" font-family="&quot;Liberation Sans&quot;, sans-serif" >flux</text>
<text x="642.11" y="29.00" font-size="40.40" text-anchor="start" textLength="36.65" lengthAdjust="spacingAndGlyphs" font-family="&quot;Liberation Sans&quot;, sans-serif" >at</text>
<text x="691.79" y="29.00" font-size="40.40" text-anchor="start" textLength="186.95" lengthAdjust="spacingAndGlyphs" font-family="&quot;Liberation Sans&quot;, sans-serif" >interfaces</text>
<text x="161.12" y="36.70" font-size="27.20" text-anchor="start" textLength="68.68" lengthAdjust="spacingAndGlyphs" font-family="&quot;Liberation Sans&quot;, sans-serif" >1e−9</text>
<text x="89.43" y="122.25" font-size="36.60" text-anchor="start" textLength="19.86" lengthAdjust="spacingAndGlyphs" font-family="&quot;Liberation Sans&quot;, sans-serif" >1</text>
<text x="110.64" y="122.25" font-size="36.60" text-anchor="start" textLength="11.52" lengthAdjust="spacingAndGlyphs" font-family="&quot;Liberation Sans&quot;, sans-serif" >.</text>
<text x="122.28" y="122.25" font-size="36.60" text-anchor="start" textLength="20.84" lengthAdjust="spacingAndGlyphs" font-family="&quot;Liberation Sans&quot;, sans-serif" >5</text>
<text x="89.43" y="230.01" font-size="36.60" text-anchor="start" textLength="19.86" lengthAdjust="spacingAndGlyphs" font-family="&quot;Liberation Sans&quot;, sans-serif" >1</text>
<text x="110.64" y="230.01" font-size="36.60" text-anchor="start" textLength="11.52" lengthAdjust="spacingAndGlyphs" font-family="&quot;Liberation Sans&quot;, sans-serif" >.</text>
<text x="122.28" y="230.01" font-size="36.60" text-anchor="start" textLength="21.06" lengthAdjust="spacingAndGlyphs" font-family="&quot;Liberation Sans&quot;, sans-serif" >0</text>
<text x="88.56" y="337.77" font-size="36.60" text-anchor="start" textLength="21.63" lengthAdjust="spacingAndGlyphs" font-family="&quot;Liberation Sans&quot;, sans-serif" >0</text>
<text x="110.64" y="337.77" font-size="36.60" text-anchor="start" textLength="11.52" lengthAdjust="spacingAndGlyphs" font-family="&quot;Liberation Sans&quot;, sans-serif" >.</text>
<text x="122.28" y="337.77" font-size="36.60" text-anchor="start" textLength="20.84" lengthAdjust="spacingAndGlyphs" font-family="&quot;Liberation Sans&quot;, sans-serif" >5</text>
<text x="88.56" y="445.53" font-size="36.60" text-anchor="start" textLength="21.63" lengthAdjust="spacingAndGlyphs" font-family="&quot;Liberation Sans&quot;, sans-serif" >0</text>
<text x="110.64" y="445.53" font-size="36.60" text-anchor="start" textLength="11.52" lengthAdjust="spacingAndGlyphs" font-family="&quot;Liberation Sans&quot;, sans-serif" >.</text>
<text x="122.28" y="445.53" font-size="36.60" text-anchor="start" textLength="21.06" lengthAdjust="spacingAndGlyphs" font-family="&quot;Liberation Sans&quot;, sans-serif" >0</text>
<text x="60.93" y="553.28" font-size="36.60" text-anchor="start" textLength="25.58" lengthAdjust="spacingAndGlyphs" font-family="&quot;Liberation Sans&quot;, sans-serif" >−</text>
<text x="88.56" y="553.28" font-size="36.60" text-anchor="start" textLength="21.63" lengthAdjust="spacingAndGlyphs" font-family="&quot;Liberation Sans&quot;, sans-serif" >0</text>
<text x="110.64" y="553.28" font-size="36.60" text-anchor="start" textLength="11.52" lengthAdjust="spacingAndGlyphs" font-family="&quot;Liberation Sans&quot;, sans-serif" >.</text>
<text x="122.28" y="553.28" font-size="36.60" text-anchor="start" textLength="20.84" lengthAdjust="spacingAndGlyphs" font-family="&quot;Liberation Sans&quot;, sans-serif" >5</text>
<text x="60.93" y="661.04" font-size="36.60" text-anchor="start" textLength="25.58" lengthAdjust="spacingAndGlyphs" font-family="&quot;Liberation Sans&quot;, sans-serif" >−</text>
<text x="89.43" y="661.04" font-size="36.60" text-anchor="start" textLength="19.86" lengthAdjust="spacingAndGlyphs" font-family="&quot;Liberation Sans&quot;, sans-serif" >1</text>
<text x="110.64" y="661.04" font-size="36.60" text-anchor="start" textLength="11.52" lengthAdjust="spacingAndGlyphs" font-family="&quot;Liberation Sans&quot;, sans-serif" >.</text>
<text x="122.28" y="661.04" font-size="36.60" text-anchor="start" textLength="21.06" lengthAdjust="spacingAndGlyphs" font-family="&quot;Liberation Sans&quot;, sans-serif" >0</text>
<text x="60.93" y="768.80" font-size="36.60" text-anchor="start" textLength="25.58" lengthAdjust="spacingAndGlyphs" font-family="&quot;Liberation Sans&quot;, sans-serif" >−</text>
<text x="89.43" y="768.80" font-size="36.60" text-anchor="start" textLength="19.86" lengthAdjust="spacingAndGlyphs" font-family="&quot;Liberation Sans&quot;, sans-serif" >1</text>
<text x="110.64" y="768.80" font-size="36.60" text-anchor="start" textLength="11.52" lengthAdjust="spacingAndGlyphs" font-family="&quot;Liberation Sans&quot;, sans-serif" >.</text>
<text x="122.28" y="768.80" font-size="36.60" text-anchor="start" textLength="20.84" lengthAdjust="spacingAndGlyphs" font-family="&quot;Liberation Sans&quot;, sans-serif" >5</text>
<text x="250.87" y="799.30" font-size="36.60" text-anchor="start" textLength="20.11" lengthAdjust="spacingAndGlyphs" font-family="&quot;Liberation Sans&quot;, sans-serif" >1</text>
<text x="272.54" y="799.30" font-size="36.60" text-anchor="start" textLength="21.96" lengthAdjust="spacingAndGlyphs" font-family="&quot;Liberation Sans&quot;, sans-serif" >0</text>
<text x="295.77" y="786.00" font-size="26.30" text-anchor="start" textLength="14.24" lengthAdjust="spacingAndGlyphs" font-family="&quot;Liberation Sans&quot;, sans-serif" >0</text>
<text x="547.83" y="799.30" font-size="36.60" text-anchor="start" textLength="20.11" lengthAdjust="spacingAndGlyphs" font-family="&quot;Liberation Sans&quot;, sans-serif" >1</text>
<text x="569.50" y="799.30" font-size="36.60" text-anchor="start" textLength="21.96" lengthAdjust="spacingAndGlyphs" font-family="&quot;Liberation Sans&quot;, sans-serif" >0</text>
<text x="592.73" y="786.00" font-size="26.30" text-anchor="start" textLength="14.24" lengthAdjust="spacingAndGlyphs" font-family="&quot;Liberation Sans&quot;, sans-serif" >1</text>
<text x="844.79" y="799.30" font-size="36.60" text-anchor="start" textLength="20.11" lengthAdjust="spacingAndGlyphs" font-family="&quot;Liberation Sans&quot;, sans-serif" >1</text>
<text x="866.46" y="799.30" font-size="36.60" text-anchor="start" textLength="21.96" lengthAdjust="spacingAndGlyphs" font-family="&quot;Liberation Sans&quot;, sans-serif" >0</text>
<text x="889.69" y="786.00" font-size="26.30" text-anchor="start" textLength="14.24" lengthAdjust="spacingAndGlyphs" font-family="&quot;Liberation Sans&quot;, sans-serif" >2</text>
<text x="1141.75" y="799.30" font-size="36.60" text-anchor="start" textLength="20.11" lengthAdjust="spacingAndGlyphs" font-family="&quot;Liberation Sans&quot;, sans-serif" >1</text>
<text x="1163.42" y="799.30" font-size="36.60" text-anchor="start" textLength="21.96" lengthAdjust="spacingAndGlyphs" font-family="&quot;Liberation Sans&quot;, sans-serif" >0</text>
<text x="1186.65" y="786.00" font-size="26.30" text-anchor="start" textLength="14.24" lengthAdjust="spacingAndGlyphs" font-family="&quot;Liberation Sans&quot;, sans-serif" >3</text>
<text x="479.13" y="844.60" font-size="40.00" text-anchor="start" textLength="114.67" lengthAdjust="spacingAndGlyphs" font-family="&quot;Liberation Sans&quot;, sans-serif" >Radial</text>
<text x="606.83" y="844.60" font-size="40.00" text-anchor="start" textLength="159.07" lengthAdjust="spacingAndGlyphs" font-family="&quot;Liberation Sans&quot;, sans-serif" >distance</text>
<text x="777.75" y="844.60" font-size="40.00" text-anchor="start" textLength="75.96" lengthAdjust="spacingAndGlyphs" font-family="&quot;Liberation Sans&quot;, sans-serif" >[au]</text>
<g transform="translate(40.4,491.8) rotate(-90)">
<text x="-2.00" y="0.00" font-size="40.00" text-anchor="start" font-family="&quot;Liberation Sans&quot;, sans-serif" font-style="italic">M</text>
<text x="44.50" y="-3.00" font-size="35.80" text-anchor="start" font-family="&quot;Liberation Sans&quot;, sans-serif" >[</text>
<text x="57.00" y="0.00" font-size="40.00" text-anchor="start" font-family="&quot;Liberation Sans&quot;, sans-serif" font-style="italic">M</text>
<text x="124.50" y="3.50" font-size="40.00" text-anchor="start" font-family="&quot;Liberation Sans&quot;, sans-serif" >/</text>
<text x="137.00" y="0.00" font-size="40.00" text-anchor="start" font-family="&quot;Liberation Sans&quot;, sans-serif" >y</text>
<text x="160.50" y="0.00" font-size="40.00" text-anchor="start" font-family="&quot;Liberation Sans&quot;, sans-serif" >r</text>
<text x="176.00" y="-3.00" font-size="35.80" text-anchor="start" font-family="&quot;Liberation Sans&quot;, sans-serif" >]</text>
<rect x="16.90" y="-39.10" width="3.4" height="3.6" fill="#000"/>
<circle cx="106.2" cy="-2.5" r="7.3" fill="none" stroke="#000" stroke-width="2"/>
<circle cx="106.2" cy="-2.5" r="1.6" fill="#000"/>
</g>
<rect x="916.5" y="58.6" width="239.3" height="102.4" rx="5" ry="5" fill="#fff" fill-opacity="0.8" stroke="#d0d0d0" stroke-width="2"/>
<line x1="925.8" y1="88.3" x2="990.8" y2="88.3" stroke="#8a2be2" stroke-width="5"/>
<line x1="928.3" y1="132.9" x2="989.2" y2="132.9" stroke="#b375ec" stroke-width="3.75" stroke-dasharray="13.9 6.1"/>
<text x="1012.54" y="98.25" font-size="31.00" text-anchor="start" textLength="11.87" lengthAdjust="spacingAndGlyphs" font-family="&quot;Liberation Sans&quot;, sans-serif" >t</text>
<text x="1025.68" y="98.25" font-size="31.00" text-anchor="start" textLength="22.55" lengthAdjust="spacingAndGlyphs" font-family="&quot;Liberation Sans&quot;, sans-serif" >=</text>
<text x="1049.85" y="98.25" font-size="31.00" text-anchor="start" textLength="17.30" lengthAdjust="spacingAndGlyphs" font-family="&quot;Liberation Sans&quot;, sans-serif" >1</text>
<text x="1067.72" y="98.25" font-size="31.00" text-anchor="start" textLength="19.87" lengthAdjust="spacingAndGlyphs" font-family="&quot;Liberation Sans&quot;, sans-serif" >0</text>
<text x="1088.29" y="87.00" font-size="21.00" text-anchor="start" textLength="12.71" lengthAdjust="spacingAndGlyphs" font-family="&quot;Liberation Sans&quot;, sans-serif" >4</text>
<text x="1111.83" y="98.25" font-size="31.00" text-anchor="start" textLength="16.40" lengthAdjust="spacingAndGlyphs" font-family="&quot;Liberation Sans&quot;, sans-serif" >y</text>
<text x="1129.17" y="98.25" font-size="31.00" text-anchor="start" textLength="13.20" lengthAdjust="spacingAndGlyphs" font-family="&quot;Liberation Sans&quot;, sans-serif" >r</text>
<text x="1012.57" y="142.90" font-size="31.00" text-anchor="start" textLength="11.33" lengthAdjust="spacingAndGlyphs" font-family="&quot;Liberation Sans&quot;, sans-serif" >t</text>
<text x="1025.96" y="142.90" font-size="31.00" text-anchor="start" textLength="21.76" lengthAdjust="spacingAndGlyphs" font-family="&quot;Liberation Sans&quot;, sans-serif" >=</text>
<text x="1059.26" y="142.90" font-size="31.00" text-anchor="start" textLength="17.94" lengthAdjust="spacingAndGlyphs" font-family="&quot;Liberation Sans&quot;, sans-serif" >3</text>
<text x="1088.22" y="143.10" font-size="31.00" text-anchor="start" textLength="24.03" lengthAdjust="spacingAndGlyphs" font-family="&quot;Liberation Sans&quot;, sans-serif" >M</text>
<text x="1113.33" y="142.90" font-size="31.00" text-anchor="start" textLength="16.58" lengthAdjust="spacingAndGlyphs" font-family="&quot;Liberation Sans&quot;, sans-serif" >y</text>
<text x="1131.56" y="142.90" font-size="31.00" text-anchor="start" textLength="12.62" lengthAdjust="spacingAndGlyphs" font-family="&quot;Liberation Sans&quot;, sans-serif" >r</text>
</svg>
</body></html>
